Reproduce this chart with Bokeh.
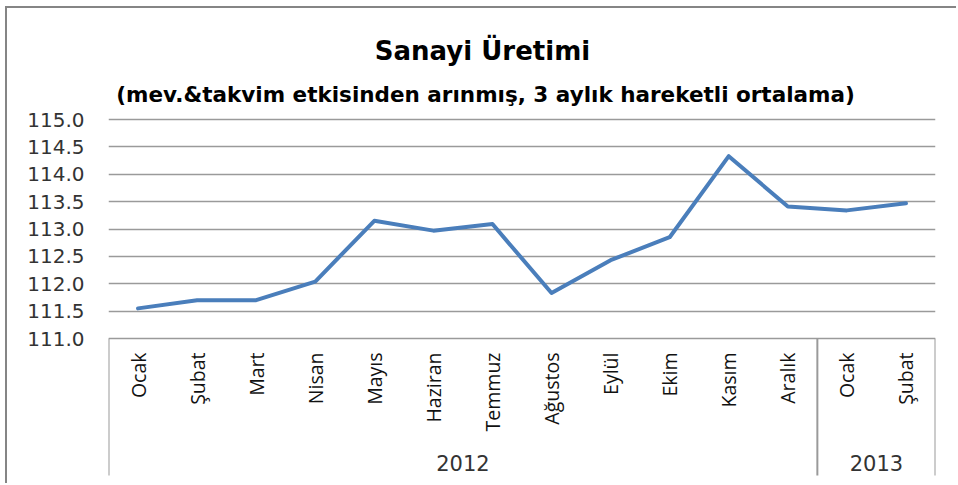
import math
from bokeh.plotting import figure
from bokeh.models import FactorRange, Range1d, FixedTicker, PrintfTickFormatter, ColumnDataSource, Label
from bokeh.core.properties import value
from bokeh.embed import file_html
from bokeh.resources import INLINE

# ---------------- data ----------------
years = ["2012"] * 12 + ["2013"] * 2
months = ["Ocak", "Şubat", "Mart", "Nisan", "Mayıs", "Haziran", "Temmuz",
          "Ağustos", "Eylül", "Ekim", "Kasım", "Aralık", "Ocak", "Şubat"]
values = [111.55, 111.70, 111.70, 112.04, 113.15, 112.97, 113.09,
          111.83, 112.43, 112.85, 114.33, 113.41, 113.34, 113.47]
year_groups = ["2012", "2013"]
y_ticks = [111.0, 111.5, 112.0, 112.5, 113.0, 113.5, 114.0, 114.5, 115.0]
title_text = "Sanayi Üretimi"
subtitle_text = "(mev.&takvim etkisinden arınmış, 3 aylık hareketli ortalama)"

# ---------------- layout helpers ----------------
OX, OY = 7, 8                      # canvas offset on the page (after the outer border)
W, H = 958 - OX, 485 - OY
FRAME_L, FRAME_R = 108 - OX, 935 - OX
Y_TOP_PX, Y_BOT_PX = 119 - OY, 338 - OY    # canvas rows of 115.0 and 111.0
PX = (y_ticks[-1] - y_ticks[0]) / (Y_BOT_PX - Y_TOP_PX)


def ypix(page_y):
    return y_ticks[-1] - (page_y - OY - Y_TOP_PX) * PX


factors = list(zip(years, months))
n = len(factors)
cat_w = (FRAME_R - FRAME_L) / n


def xpix(page_x):
    return (page_x - OX - FRAME_L) / cat_w


x_range = FactorRange(*factors, group_padding=0, factor_padding=0, subgroup_padding=0, range_padding=0)
y_range = Range1d(ypix(485), ypix(OY))

p = figure(width=W, height=H, x_range=x_range, y_range=y_range,
           output_backend="svg", toolbar_location=None,
           min_border_left=FRAME_L, min_border_right=W - FRAME_R,
           min_border_top=0, min_border_bottom=0,
           x_axis_location=None)
p.styles = {"border-left": "2px solid #858585", "border-top": "2px solid #858585",
            "margin-left": "5px", "margin-top": "6px"}
p.outline_line_color = None
p.background_fill_color = "white"
p.border_fill_color = "white"

# y axis
yax = p.yaxis[0]
yax.ticker = FixedTicker(ticks=y_ticks)
yax.formatter = PrintfTickFormatter(format="%.1f")
yax.axis_line_color = None
yax.major_tick_line_color = None
yax.minor_tick_line_color = None
yax.major_tick_out = 0
yax.major_tick_in = 0
yax.major_label_standoff = 24
yax.major_label_text_font = "DejaVu Sans"
yax.major_label_text_font_size = "20px"
yax.major_label_text_color = "#333333"

p.xgrid.grid_line_color = None
p.ygrid.ticker = FixedTicker(ticks=y_ticks)
p.ygrid.grid_line_color = "#9a9a9a"
p.ygrid.grid_line_width = 1.4

# category separators (bottom box)
bounds = [(years[0], months[0], -0.5), (years[12], months[12], -0.5), (years[-1], months[-1], 0.5)]
sep = ColumnDataSource(dict(x=bounds, y0=[y_ticks[0]] * 3, y1=[ypix(475)] * 3))
p.segment(x0="x", y0="y0", x1="x", y1="y1", source=sep, line_color="#9a9a9a", line_width=2)

# series line
src = ColumnDataSource(dict(x=factors, y=values))
p.line("x", "y", source=src, line_color="#4A7EBB", line_width=4,
       line_join="round", line_cap="round")

# month labels
msrc = ColumnDataSource(dict(x=factors, y=[ypix(352)] * n, t=months))
p.text("x", "y", text="t", source=msrc, angle=math.pi / 2,
       text_align="right", text_baseline="middle",
       text_font=value("Open Sans"), text_font_size="19.5px", text_color="#111111")

# year labels
ysrc = ColumnDataSource(dict(x=year_groups, y=[ypix(462)] * 2, t=year_groups))
p.text("x", "y", text="t", source=ysrc, text_align="center", text_baseline="middle",
       text_font=value("DejaVu Sans"), text_font_size="21px", text_color="#333333")

# titles
p.add_layout(Label(x=xpix(482), y=ypix(50), text=title_text, text_align="center",
                   text_baseline="alphabetic", text_font="DejaVu Sans", text_font_style="bold",
                   text_font_size="26px", text_color="black"))
p.add_layout(Label(x=xpix(485), y=ypix(94), text=subtitle_text, text_align="center",
                   text_baseline="alphabetic", text_font="DejaVu Sans", text_font_style="bold",
                   text_font_size="21.5px", text_color="black"))

open("out.html", "w").write(file_html(p, INLINE))
